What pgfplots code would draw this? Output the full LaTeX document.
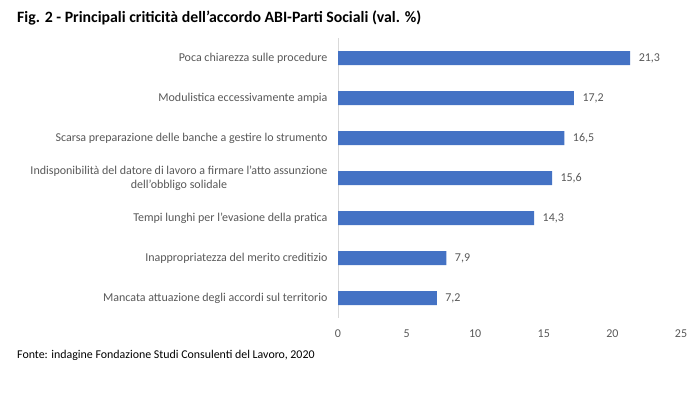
\documentclass[border=0pt]{standalone}
\usepackage{pgfplots}
\pgfplotsset{compat=1.18}
\usepackage{fontspec}
\setmainfont{Carlito}
\definecolor{barblue}{HTML}{4472C4}
\definecolor{txtgray}{HTML}{595959}
\definecolor{axgray}{HTML}{D9D9D9}
\begin{document}
\begin{tikzpicture}[x=1pt,y=1pt]
\useasboundingbox[fill=white] (0,0) rectangle (698,392);
\node[anchor=west,inner sep=0pt,font=\fontsize{15.8}{19}\selectfont\bfseries] at (17,374) {Fig. 2 - Principali criticità dell’accordo ABI-Parti Sociali (val. \%)};
\node[anchor=west,inner sep=0pt,font=\fontsize{11.9}{14}\selectfont] at (17,37) {Fonte: indagine Fondazione Studi Consulenti del Lavoro, 2020};
\begin{axis}[
  at={(338pt,74pt)}, anchor=south west,
  scale only axis, width=343pt, height=280pt,
  xbar, bar width=14pt,
  xmin=0, xmax=25, ymin=-0.5, ymax=6.5, y dir=reverse,
  xtick={0,5,10,15,20,25},
  ytick={0,1,2,3,4,5,6},
  yticklabels={Poca chiarezza sulle procedure,Modulistica eccessivamente ampia,Scarsa preparazione delle banche a gestire lo strumento,{Indisponibilità del datore di lavoro a firmare l’atto assunzione\\dell’obbligo solidale},Tempi lunghi per l’evasione della pratica,Inappropriatezza del merito creditizio,Mancata attuazione degli accordi sul territorio},
  yticklabel style={align=center,font=\fontsize{12}{14}\selectfont,text=txtgray,xshift=-7pt},
  xticklabel style={font=\fontsize{12}{14}\selectfont,text=txtgray,yshift=-8pt},
  xticklabels={0,5,10,15,20,25},
  major tick length=0pt,
  axis lines*=left,
  x axis line style={draw=none},
  y axis line style={draw=axgray,-},
  nodes near coords,
  nodes near coords style={font=\fontsize{12}{14}\selectfont,text=txtgray,anchor=west,xshift=5pt,
    /pgf/number format/.cd,fixed,fixed zerofill,precision=1,use comma,assume math mode=true},
]
\addplot[fill=barblue,draw=none] coordinates {(21.3,0) (17.2,1) (16.5,2) (15.6,3) (14.3,4) (7.9,5) (7.2,6)};
\end{axis}
\end{tikzpicture}
\end{document}
